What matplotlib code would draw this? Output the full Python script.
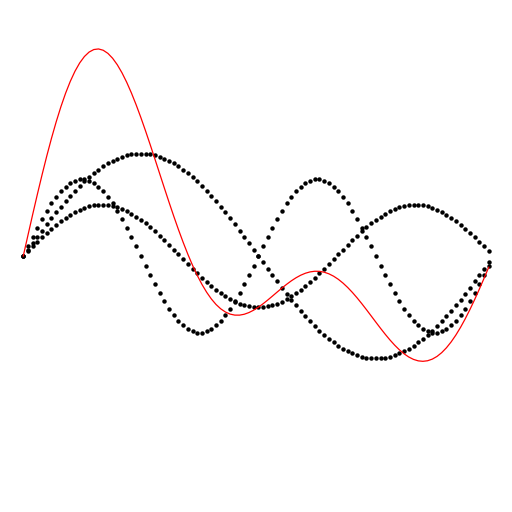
import numpy as np
import matplotlib
matplotlib.use("Agg")
import matplotlib.pyplot as plt

# sample points (no endpoint)
t = np.linspace(0, 2 * np.pi, 100, endpoint=False)
freqs = [1, 2, 1.5]
amps = [1, 0.75, 0.5]

waves = [a * np.sin(f * t) for f, a in zip(freqs, amps)]
total = waves[0] + waves[1] + waves[2]

fig = plt.figure(figsize=(5.12, 5.12), dpi=100)
ax = fig.add_axes([0, 0, 1, 1])
for w in waves:
    ax.plot(t, w, "o", color="black", markersize=3.2, markeredgewidth=0)
ax.plot(t, total, color="red", lw=0.9)
ax.set_ylim(-2.5, 2.5)
ax.axis("off")
fig.savefig("out.png", dpi=100)
